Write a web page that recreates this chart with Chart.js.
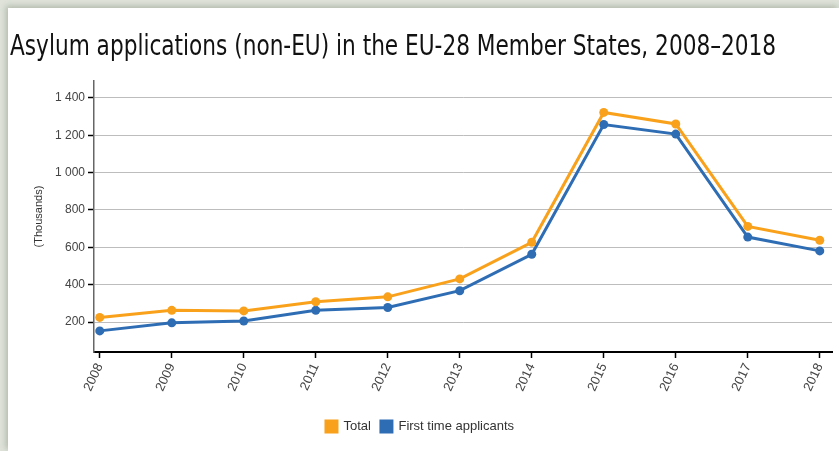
<!DOCTYPE html>
<html>
<head>
<meta charset="utf-8">
<script src="https://cdn.jsdelivr.net/npm/chart.js@4/dist/chart.umd.min.js"></script>
<style>
  html, body { margin: 0; padding: 0; background: #dfe3da; }
  #wrap {
    position: absolute; left: 8px; top: 8px; width: 831px; height: 443px;
    background: #fff; box-shadow: -2px -2px 6px rgba(120,130,110,0.45);
  }
  #title {
    position: absolute; left: 2px; top: 20px; margin: 0;
    font-family: "DejaVu Sans Condensed", "Liberation Sans Narrow", sans-serif;
    font-weight: normal; font-size: 29px; color: #111; white-space: nowrap;
    transform-origin: left top;
  }
  canvas { position: absolute; left: 0; top: 0; }
</style>
</head>
<body>
<div id="wrap">
  <canvas id="asylumChart" width="831" height="443"></canvas>
  <h1 id="title">Asylum applications (non-EU) in the EU-28 Member States, 2008–2018</h1>
</div>
<script>
// Años y valores (miles)
const years = [2008, 2009, 2010, 2011, 2012, 2013, 2014, 2015, 2016, 2017, 2018];
const totalApps = [225, 263, 260, 309, 335, 431, 627, 1322, 1260, 712, 638];
const firstTimeApps = [153, 196, 206, 263, 278, 368, 563, 1257, 1206, 655, 581];
const yTicks = [200, 400, 600, 800, 1000, 1200, 1400];

const orange = '#f9a11b';
const blue = '#2e6db4';

// Título estrecho como en el original
const t = document.getElementById('title');
t.style.transform = 'scaleX(' + (766 / t.offsetWidth) + ')';

function toPoints(values) {
  return years.map((y, i) => ({ x: y, y: values[i] }));
}

function fmt(v) {
  return String(v).replace(/\B(?=(\d{3})+(?!\d))/g, ' ');
}

const ctx = document.getElementById('asylumChart').getContext('2d');
new Chart(ctx, {
  type: 'line',
  data: {
    datasets: [
      {
        label: 'Total',
        data: toPoints(totalApps),
        borderColor: orange,
        backgroundColor: orange,
        borderWidth: 3,
        pointRadius: 4.5,
        pointBorderWidth: 0,
        tension: 0
      },
      {
        label: 'First time applicants',
        data: toPoints(firstTimeApps),
        borderColor: blue,
        backgroundColor: blue,
        borderWidth: 3,
        pointRadius: 4.5,
        pointBorderWidth: 0,
        tension: 0
      }
    ]
  },
  options: {
    responsive: false,
    animation: false,
    layout: { padding: { left: 0, right: 7, top: 73, bottom: 8 } },
    plugins: {
      legend: {
        position: 'bottom',
        labels: {
          boxWidth: 11, boxHeight: 11, color: '#333', padding: 10,
          font: { family: '"Liberation Sans", Arial, sans-serif', size: 13 }
        }
      },
      tooltip: { enabled: false }
    },
    scales: {
      x: {
        type: 'linear',
        min: 2007.92,
        max: 2018.17,
        afterBuildTicks: s => { s.ticks = years.map(v => ({ value: v })); },
        afterFit: s => { s.height = 58; },
        ticks: {
          callback: v => String(v),
          minRotation: 65, maxRotation: 65,
          color: '#444',
          font: { family: '"Liberation Sans", Arial, sans-serif', size: 13 }
        },
        grid: { drawOnChartArea: false, tickColor: '#000', tickLength: 6, tickWidth: 1.5 },
        border: { color: '#000', width: 2 }
      },
      y: {
        min: 40,
        max: 1490,
        afterBuildTicks: s => { s.ticks = yTicks.map(v => ({ value: v })); },
        afterFit: s => { s.width = 86; },
        title: {
          display: true, text: '(Thousands)', color: '#333',
          padding: { top: 24, bottom: 0 },
          font: { family: '"Liberation Sans", Arial, sans-serif', size: 11 }
        },
        ticks: {
          callback: v => fmt(v),
          color: '#444', padding: 3,
          font: { family: '"Liberation Sans", Arial, sans-serif', size: 12 }
        },
        grid: {
          color: '#bdbdbd', borderDash: [1, 2], tickBorderDash: [],
          tickColor: '#000', tickLength: 6, tickWidth: 1.5
        },
        border: { color: '#666', width: 1.5 }
      }
    }
  }
});
</script>
</body>
</html>
